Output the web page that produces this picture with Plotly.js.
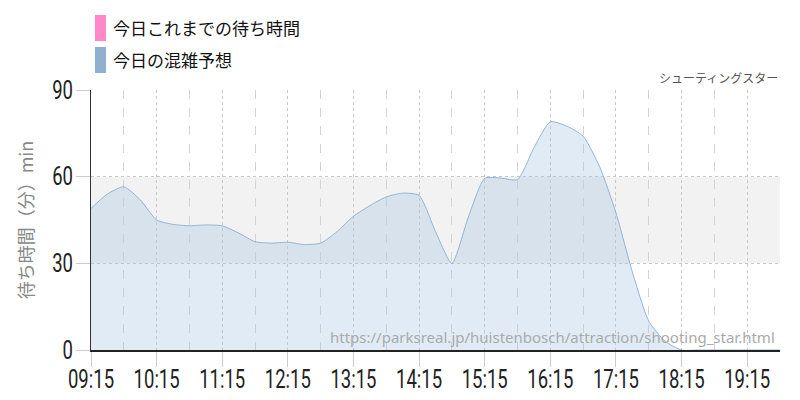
<!DOCTYPE html>
<html>
<head>
<meta charset="utf-8">
<script src="https://cdn.plot.ly/plotly-3.0.1.min.js"></script>
<style>
html,body{margin:0;padding:0;background:#fff;}
#chart{width:800px;height:400px;}
</style>
</head>
<body>
<div id="chart"></div>
<script>
const times = ["09:15","09:30","09:45","10:00","10:15","10:30","10:45","11:00","11:15","11:30","11:45","12:00","12:15","12:30","12:45","13:00","13:15","13:30","13:45","14:00","14:15","14:30","14:45","15:00","15:15","15:30","15:45","16:00","16:15","16:30","16:45","17:00","17:15","17:30","17:45","18:00","18:15","18:30","18:45","19:00","19:15","19:30","19:45"];
const forecast = [49,54,56.5,52,45,43.5,43,43.3,43,40.5,37.5,37,37.3,36.5,37,41,46.3,50,53,54.3,53.5,41,30,46,59.4,59.5,59,70,79,77.5,74,63.5,47.5,27,10,3,0,0,0,0,0,0,0];
const actual = [];
const actualTimes = [];
const legendNames = ["今日これまでの待ち時間","今日の混雑予想"];
const legendColors = ["#ff88c8","#8fb1cf"];
const attractionName = "シューティングスター";
const sourceUrl = "https://parksreal.jp/huistenbosch/attraction/shooting_star.html";
const yTitle = "待ち時間（分）min";
const yTicks = [0,30,60,90];

const day = "2024-01-01 ";
const xs = times.map(t => day + t);

const traces = [
  {x: actualTimes.map(t => day + t), y: actual, type: "scatter", mode: "lines", name: legendNames[0],
   line: {color: legendColors[0]}, showlegend: false},
  {x: xs, y: forecast, type: "scatter", mode: "lines", name: legendNames[1],
   line: {color: "rgba(135,175,210,0.9)", width: 1, shape: "spline", smoothing: 0.6},
   fill: "tozeroy", fillcolor: "rgba(166,197,226,0.35)", showlegend: false, hoverinfo: "x+y"}
];

const font = "Roboto, sans-serif";
const jp = "'Noto Sans CJK JP', sans-serif";

const layout = {
  width: 800, height: 400,
  margin: {l: 91, r: 20, t: 90, b: 50},
  paper_bgcolor: "#fff", plot_bgcolor: "#fff",
  showlegend: false,
  xaxis: {
    type: "date",
    range: [day + "09:15", day + "19:45"],
    tick0: day + "09:15", dtick: 3600000, tickformat: "%H:%M", tickangle: 0,
    showgrid: true, gridcolor: "#c8c8c8", griddash: "dot", gridwidth: 1,
    minor: {tick0: day + "09:45", dtick: 3600000, showgrid: true, gridcolor: "#d4d4d4", griddash: "dash", gridwidth: 1},
    ticks: "outside", ticklen: 15, tickcolor: "#cccccc",
    ticklabelstandoff: -9,
    showline: true, linecolor: "#222", linewidth: 2,
    tickfont: {family: font, size: 25, color: "#222"},
    zeroline: false, fixedrange: true
  },
  yaxis: {
    range: [0, 90], tickvals: yTicks, ticktext: yTicks.map(String),
    showgrid: true, gridcolor: "#c8c8c8", griddash: "dot", gridwidth: 1,
    ticks: "outside", ticklen: 14, tickcolor: "#cccccc",
    ticklabelstandoff: -2,
    showline: true, linecolor: "#333", linewidth: 1,
    tickfont: {family: font, size: 25, color: "#222"},
    zeroline: false,
    title: {text: yTitle, font: {family: jp, size: 18, color: "#888"}, standoff: 6}
  },
  shapes: [
    {type: "rect", xref: "paper", yref: "y", x0: 0, x1: 1, y0: 30, y1: 60, fillcolor: "#f2f2f2", line: {width: 0}, layer: "below"},
    {type: "rect", xref: "paper", yref: "paper", x0: 4/689, x1: 15/689, y0: (400-50-15)/260, y1: (400-50-41)/260, fillcolor: legendColors[0], line: {width: 0}},
    {type: "rect", xref: "paper", yref: "paper", x0: 4/689, x1: 15/689, y0: (400-50-47)/260, y1: (400-50-73)/260, fillcolor: legendColors[1], line: {width: 0}}
  ],
  annotations: [
    {xref: "paper", yref: "paper", x: 20/689, y: (400-50-28)/260, xanchor: "left", yanchor: "middle", showarrow: false,
     text: legendNames[0], font: {family: jp, size: 17, color: "#111"}},
    {xref: "paper", yref: "paper", x: 20/689, y: (400-50-60)/260, xanchor: "left", yanchor: "middle", showarrow: false,
     text: legendNames[1], font: {family: jp, size: 17, color: "#111"}},
    {xref: "paper", yref: "paper", x: 1, y: (400-50-78)/260, xanchor: "right", yanchor: "middle", showarrow: false,
     text: attractionName, font: {family: jp, size: 12, color: "#555"}},
    {xref: "paper", yref: "paper", x: 996/1000, y: (350-337)/260, xanchor: "right", yanchor: "middle", showarrow: false,
     text: sourceUrl, font: {family: "'Noto Sans', sans-serif", size: 15, color: "#aaa"}}
  ]
};

function condense(sel, sx, anchorRight) {
  document.querySelectorAll(sel).forEach(t => {
    const bb = t.getBBox();
    const cx = anchorRight ? bb.x + bb.width : bb.x + bb.width / 2;
    const old = t.getAttribute("transform") || "";
    t.setAttribute("transform", old + ` translate(${cx},0) scale(${sx},1) translate(${-cx},0)`);
  });
}

Plotly.newPlot("chart", traces, layout, {displayModeBar: false, staticPlot: true}).then(() => {
  condense("#chart .xtick text", 0.74, false);
  condense("#chart .ytick text", 0.74, true);
});
</script>
</body>
</html>
